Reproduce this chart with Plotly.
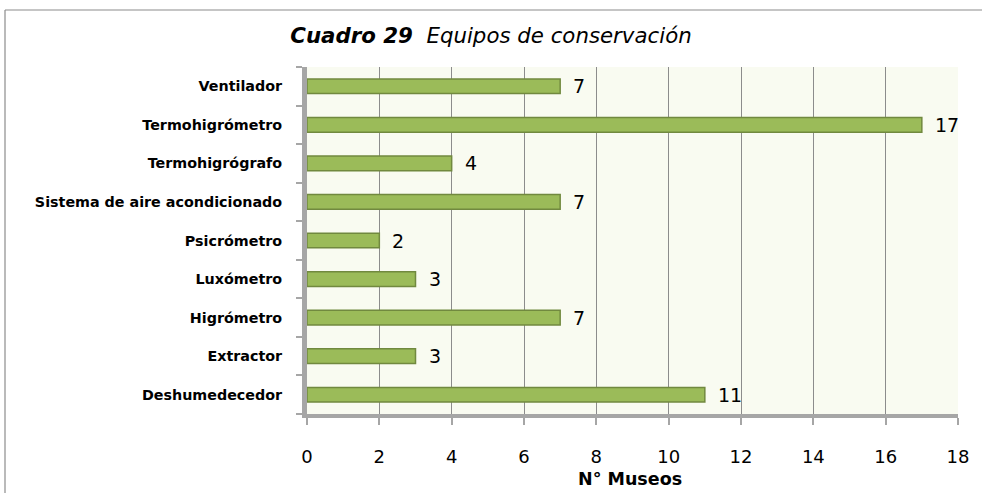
import plotly.graph_objects as go

categories = ["Deshumedecedor", "Extractor", "Higrómetro", "Luxómetro", "Psicrómetro",
              "Sistema de aire acondicionado", "Termohigrógrafo", "Termohigrómetro", "Ventilador"]
values = [11, 3, 7, 3, 2, 7, 4, 17, 7]
x_ticks = [0, 2, 4, 6, 8, 10, 12, 14, 16, 18]

W, H = 982, 493
L, R, T, B = 307, 24, 67, 79
pw, ph = W - L - R, H - T - B
FONT = "DejaVu Sans"

def px(x):
    return (x - L) / pw

def py(y):
    return (H - B - y) / ph

fig = go.Figure(go.Bar(
    y=categories, x=values, orientation="h",
    marker=dict(color="#9bbb59", line=dict(color="#71893f", width=1.5)),
    width=0.38,
    hoverinfo="x+y",
))

# value labels, placed at the bar ends through the data axes
for c, v in zip(categories, values):
    fig.add_annotation(x=v, y=c, xref="x", yref="y", text=str(v), showarrow=False,
                       xanchor="left", yanchor="middle", xshift=11,
                       font=dict(size=19, family=FONT, color="#000000"))

fig.update_layout(
    width=W, height=H,
    margin=dict(l=L, r=R, t=T, b=B),
    paper_bgcolor="white", plot_bgcolor="#f9fbf1",
    showlegend=False,
    font=dict(family=FONT, color="#000000"),
    title=dict(text="<b><i>Cuadro 29</i></b>  <i>Equipos de conservación</i>",
               x=px(491), xref="paper", xanchor="center", y=1 - 36 / H, yanchor="middle",
               font=dict(size=21.3, family=FONT)),
    bargap=0.6,
)
fig.update_xaxes(range=[0, 18], tickvals=x_ticks, ticktext=[str(t) for t in x_ticks],
                 showgrid=True, gridcolor="#8c8c8c", gridwidth=1.3, zeroline=False,
                 showline=True, linecolor="#a6a6a6", linewidth=4,
                 ticks="outside", ticklen=7, tickcolor="#a6a6a6", tickwidth=2,
                 ticklabelstandoff=16,
                 tickfont=dict(size=18, family=FONT))
fig.update_yaxes(showgrid=False, showline=True, linecolor="#a6a6a6", linewidth=5,
                 ticks="outside", tickson="boundaries", ticklen=6, tickcolor="#a6a6a6", tickwidth=1.5,
                 ticklabelstandoff=17,
                 tickfont=dict(size=14.3, family=FONT, weight="bold"))

fig.add_annotation(text="<b>N° Museos</b>", xref="paper", yref="paper",
                   x=px(630), y=py(479), xanchor="center", yanchor="middle",
                   showarrow=False, font=dict(size=17.5, family=FONT))

# chart frame
fig.add_shape(type="line", xref="paper", yref="paper", x0=px(5), x1=px(1000), y0=py(10), y1=py(10),
              line=dict(color="#8c8c8c", width=1.2))
fig.add_shape(type="line", xref="paper", yref="paper", x0=px(5), x1=px(5), y0=py(10), y1=py(500),
              line=dict(color="#8c8c8c", width=1.2))

fig.write_html("out.html", config={"displayModeBar": False},
               post_script="document.body.style.margin='0';")
